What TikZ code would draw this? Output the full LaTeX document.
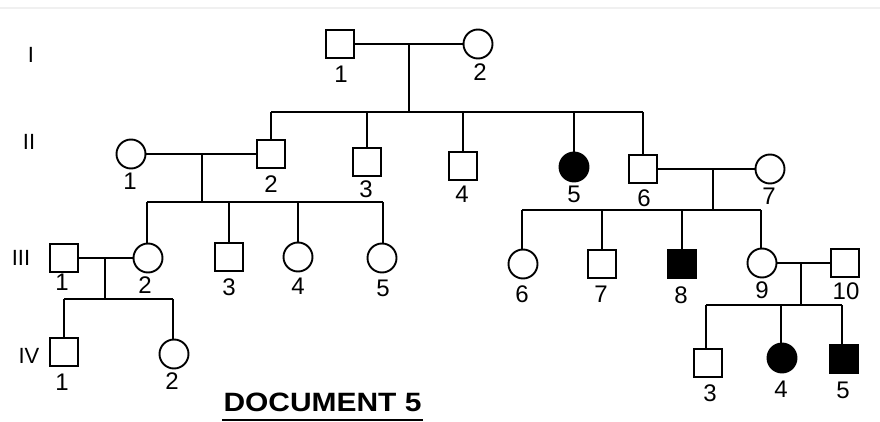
\documentclass[tikz,border=0pt]{standalone}
\usepackage{fontspec}
\setmainfont{Liberation Sans}
\usetikzlibrary{calc}
\tikzset{
  ln/.style={line width=1.9pt},
  male/.style={draw, line width=1.9pt, rectangle, minimum size=28pt, inner sep=0pt, fill=white},
  female/.style={draw, line width=1.9pt, circle, minimum size=29pt, inner sep=0pt, fill=white},
  aff/.style={fill=black},
  lab/.style={font=\fontsize{24}{27}\selectfont, inner sep=0pt},
  gen/.style={font=\fontsize{22}{25}\selectfont, inner sep=0pt},
}
\begin{document}
\begin{tikzpicture}[x=1pt,y=-1pt]
\fill[white] (0,0) rectangle (880,422);
\useasboundingbox (0,0) rectangle (880,422);
\draw[gray!12, line width=1.2pt] (0,8) -- (880,8);

% generation labels
\node[gen] (gI) at (31,55) {I};
\node[gen] (gII) at (29,142) {II};
\node[gen] (gIII) at (21,258) {III};
\node[gen] (gIV) at (29,356) {IV};

% generation I
\node[male] (I1) at (340,44) {};
\node[female] (I2) at (478,44) {};
% generation II
\node[female] (II1) at (131,154) {};
\node[male] (II2) at (271,154) {};
\node[male] (II3) at (367,162) {};
\node[male] (II4) at (463,166) {};
\node[female,aff] (II5) at (574,167) {};
\node[male] (II6) at (643,169) {};
\node[female] (II7) at (770,169) {};
% generation III
\node[male] (III1) at (64,258) {};
\node[female] (III2) at (148,258) {};
\node[male] (III3) at (229,257) {};
\node[female] (III4) at (298,257) {};
\node[female] (III5) at (382,258) {};
\node[female] (III6) at (523,264) {};
\node[male] (III7) at (602,264) {};
\node[male,aff] (III8) at (682,264) {};
\node[female] (III9) at (762,263) {};
\node[male] (III10) at (845,263) {};
% generation IV
\node[male] (IV1) at (64,352) {};
\node[female] (IV2) at (174,354) {};
\node[male] (IV3) at (708,363) {};
\node[female,aff] (IV4) at (782,358) {};
\node[male,aff] (IV5) at (844,359) {};

% couples and sibships
\coordinate (m1) at (409,44);  \coordinate (s1) at (409,112);
\coordinate (m2) at (202,154); \coordinate (s2) at (202,202);
\coordinate (m3) at (713,169); \coordinate (s3) at (713,210);
\coordinate (m4) at (105,258); \coordinate (s4) at (105,299);
\coordinate (m5) at (801,263); \coordinate (s5) at (801,305);

\begin{scope}[ln]
\draw (I1) -- (I2);
\draw (m1) -- (s1);
\draw (II2 |- s1) -- (II6 |- s1);
\foreach \c in {II2,II3,II4,II5,II6} \draw (\c |- s1) -- (\c);

\draw (II1) -- (II2);
\draw (m2) -- (s2);
\draw ([xshift=-1pt]III2.north |- s2) -- ([xshift=1pt]III5.north |- s2);
\draw ([xshift=-1pt]III2.north |- s2) -- ([xshift=-1pt]III2.north);
\draw ([xshift=1pt]III5.north |- s2) -- ([xshift=1pt]III5.north);
\foreach \c in {III3,III4} \draw (\c |- s2) -- (\c);

\draw (II6) -- (II7);
\draw (m3) -- (s3);
\draw ([xshift=-1pt]III6.north |- s3) -- ([xshift=-1pt]III9.north |- s3);
\draw ([xshift=-1pt]III6.north |- s3) -- ([xshift=-1pt]III6.north);
\draw ([xshift=-1pt]III9.north |- s3) -- ([xshift=-1pt]III9.north);
\foreach \c in {III7,III8} \draw (\c |- s3) -- (\c);

\draw (III1) -- (III2);
\draw (m4) -- (s4);
\draw (IV1 |- s4) -- ([xshift=-1pt]IV2.north |- s4);
\draw (IV1 |- s4) -- (IV1);
\draw ([xshift=-1pt]IV2.north |- s4) -- ([xshift=-1pt]IV2.north);

\draw (III9) -- (III10);
\draw (m5) -- (s5);
\draw ([xshift=-2pt]IV3.north |- s5) -- ([xshift=-2pt]IV5.north |- s5);
\draw ([xshift=-2pt]IV3.north |- s5) -- ([xshift=-2pt]IV3.north);
\draw ([xshift=-1pt]IV4.north |- s5) -- ([xshift=-1pt]IV4.north);
\draw ([xshift=-2pt]IV5.north |- s5) -- ([xshift=-2pt]IV5.north);
\end{scope}

% individual numbers
\node[lab] (lI1) at (341,74) {1};
\node[lab] (lI2) at (480,72) {2};
\node[lab] (lII1) at (130,181) {1};
\node[lab] (lII2) at (271,184) {2};
\node[lab] (lII3) at (366,189) {3};
\node[lab] (lII4) at (462,194) {4};
\node[lab] (lII5) at (574,194) {5};
\node[lab] (lII6) at (644,198) {6};
\node[lab] (lII7) at (769,196) {7};
\node[lab] (lIII1) at (62,282) {1};
\node[lab] (lIII2) at (145,285) {2};
\node[lab] (lIII3) at (229,287) {3};
\node[lab] (lIII4) at (298,286) {4};
\node[lab] (lIII5) at (383,288) {5};
\node[lab] (lIII6) at (522,294) {6};
\node[lab] (lIII7) at (601,294) {7};
\node[lab] (lIII8) at (681,295) {8};
\node[lab] (lIII9) at (762,290) {9};
\node[lab] (lIII10) at (846,291) {10};
\node[lab] (lIV1) at (62,382) {1};
\node[lab] (lIV2) at (172,381) {2};
\node[lab] (lIV3) at (710,393) {3};
\node[lab] (lIV4) at (781,389) {4};
\node[lab] (lIV5) at (843,390) {5};

% title
\node[font=\bfseries\fontsize{26.5}{30}\selectfont, inner sep=0pt, xscale=1.13] (doc) at (322.5,402.5) {DOCUMENT 5};
\draw[line width=2.2pt] (222,420) -- (423,420);
\end{tikzpicture}
\end{document}
